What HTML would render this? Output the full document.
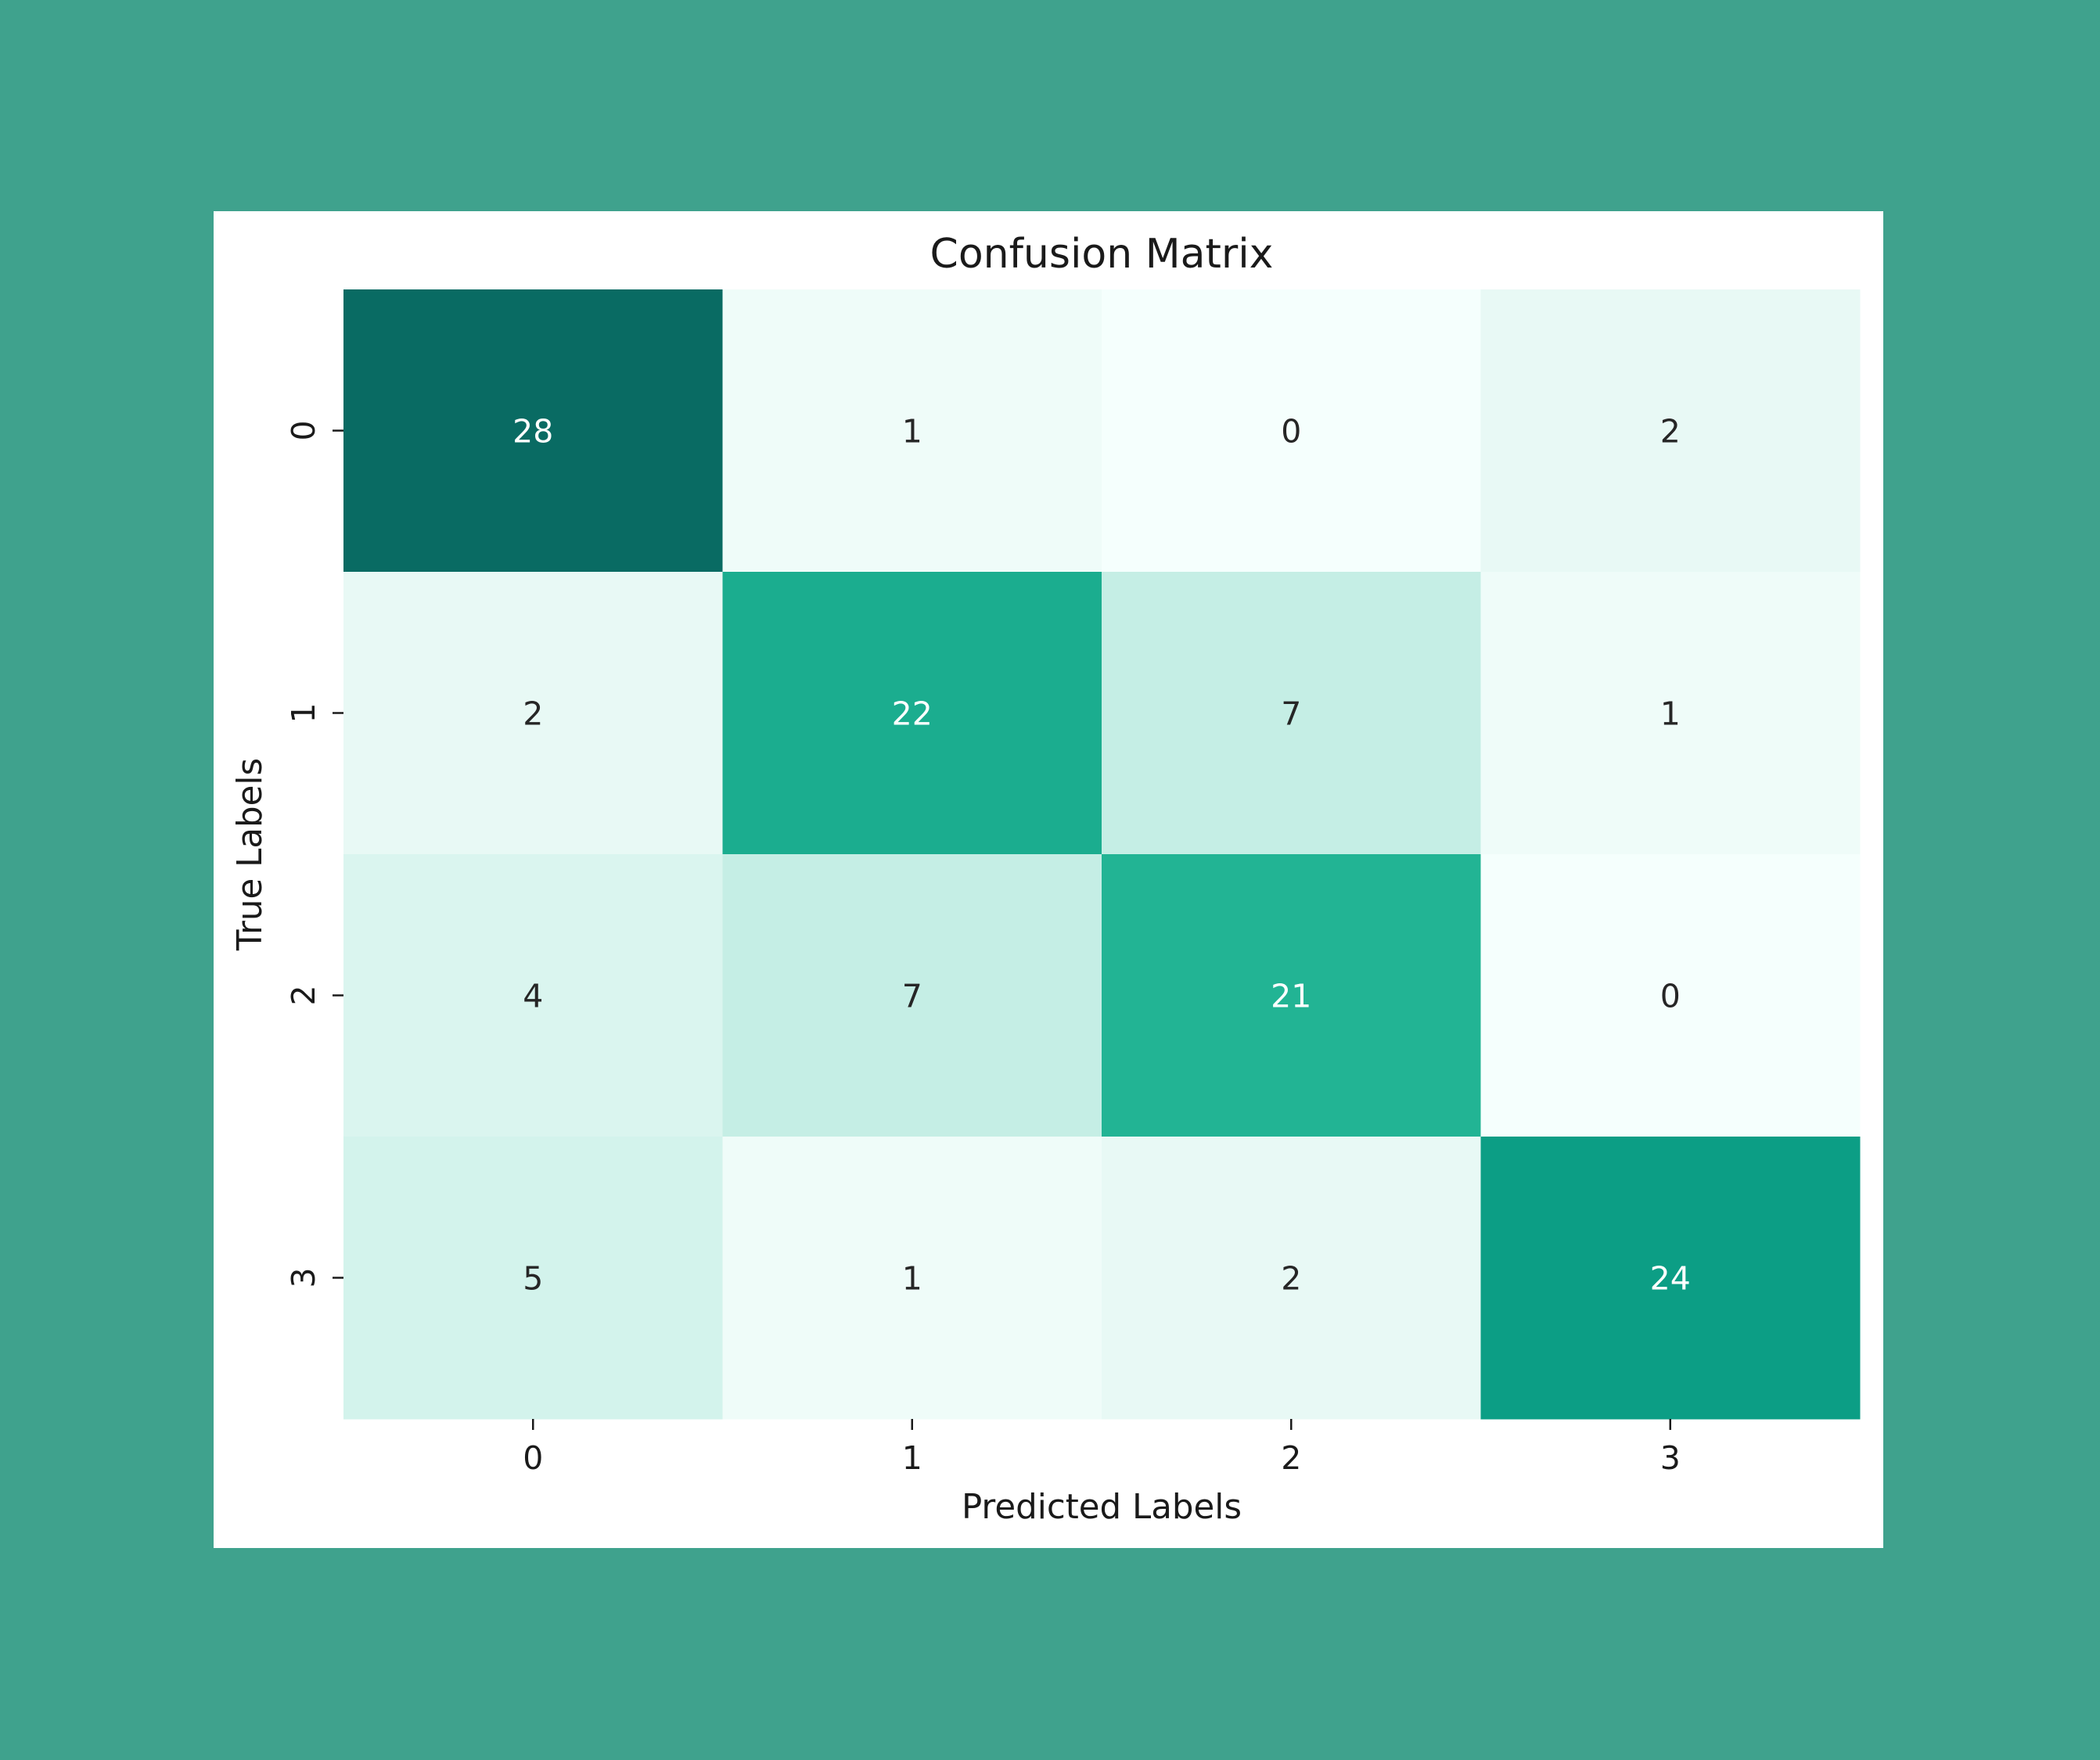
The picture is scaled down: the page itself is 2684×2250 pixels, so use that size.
<!DOCTYPE html>
<html><head><meta charset="utf-8"><style>
html,body{margin:0;padding:0;background:#3fa28d;}
svg{display:block;font-family:"DejaVu Sans","Liberation Sans",sans-serif;}
</style></head><body>
<svg id="chart" width="2684" height="2250" viewBox="0 0 2684 2250">
<rect x="0" y="0" width="2684" height="2250" fill="#3fa28d"/>
<rect x="273" y="270" width="2134" height="1709" fill="#ffffff"/>
<text x="1408" y="342" text-anchor="middle" font-size="52" fill="#1a1a1a">Confusion Matrix</text>
<g id="cells"></g>
<g id="axes"></g>
<text x="1408" y="1941" text-anchor="middle" font-size="43.5" fill="#1a1a1a">Predicted Labels</text>
<text transform="translate(334,1092) rotate(-90)" text-anchor="middle" font-size="43.5" fill="#1a1a1a">True Labels</text>
</svg>
<script>
const xCategories = ["0","1","2","3"];
const yCategories = ["0","1","2","3"];
const row0 = [28, 1, 0, 2];
const row1 = [2, 22, 7, 1];
const row2 = [4, 7, 21, 0];
const row3 = [5, 1, 2, 24];
const matrix = [row0, row1, row2, row3];
const cmapValues = [0, 1, 2, 4, 7, 21, 24, 28];
const cmapColors = ["#f5fffd","#effcf9","#e8f9f5","#daf5ef","#c5eee5","#22b494","#0c9e85","#096b63"];

const L = 439, T = 370, R = 2377, B = 1814;
const cw = (R - L) / xCategories.length, ch = (B - T) / yCategories.length;
const xPos = i => L + i * cw;
const yPos = j => T + j * ch;
const NS = "http://www.w3.org/2000/svg";

function hex(c){return [1,3,5].map(k=>parseInt(c.substr(k,2),16));}
function color(v){
  const n = cmapValues.length;
  if (v <= cmapValues[0]) return cmapColors[0];
  if (v >= cmapValues[n-1]) return cmapColors[n-1];
  for (let k=0;k<n-1;k++){
    if (v>=cmapValues[k] && v<=cmapValues[k+1]){
      const t=(v-cmapValues[k])/(cmapValues[k+1]-cmapValues[k]);
      const a=hex(cmapColors[k]), b=hex(cmapColors[k+1]);
      return "rgb("+a.map((x,i)=>Math.round(x+(b[i]-x)*t)).join(",")+")";
    }
  }
}
const maxV = Math.max(...matrix.flat());
const cells = document.getElementById("cells");
matrix.forEach((row,j)=>row.forEach((v,i)=>{
  const r = document.createElementNS(NS,"rect");
  r.setAttribute("x", xPos(i)); r.setAttribute("y", yPos(j));
  r.setAttribute("width", cw+0.5); r.setAttribute("height", ch+0.5);
  r.setAttribute("fill", color(v));
  
  
  cells.appendChild(r);
  const t = document.createElementNS(NS,"text");
  t.setAttribute("x", xPos(i)+cw/2); t.setAttribute("y", yPos(j)+ch/2+15);
  t.setAttribute("text-anchor","middle"); t.setAttribute("font-size","41");
  t.setAttribute("fill", v > maxV*0.5 ? "#ffffff" : "#262626");
  t.textContent = v;
  
  
  cells.appendChild(t);
}));
const axes = document.getElementById("axes");
xCategories.forEach((c,i)=>{
  const x = xPos(i)+cw/2;
  const l = document.createElementNS(NS,"line");
  l.setAttribute("x1",x);l.setAttribute("x2",x);l.setAttribute("y1",B);l.setAttribute("y2",B+14);
  l.setAttribute("stroke","#1a1a1a");l.setAttribute("stroke-width","2.5");
  
  
  axes.appendChild(l);
  const t = document.createElementNS(NS,"text");
  t.setAttribute("x",x);t.setAttribute("y",1878);t.setAttribute("text-anchor","middle");
  t.setAttribute("font-size","41");t.setAttribute("fill","#1a1a1a");t.textContent=c;
  
  
  axes.appendChild(t);
});
yCategories.forEach((c,j)=>{
  const y = yPos(j)+ch/2;
  const l = document.createElementNS(NS,"line");
  l.setAttribute("x1",L-14);l.setAttribute("x2",L);l.setAttribute("y1",y);l.setAttribute("y2",y);
  l.setAttribute("stroke","#1a1a1a");l.setAttribute("stroke-width","2.5");
  
  
  axes.appendChild(l);
  const t = document.createElementNS(NS,"text");
  t.setAttribute("transform","translate(402,"+y+") rotate(-90)");t.setAttribute("text-anchor","middle");
  t.setAttribute("font-size","41");t.setAttribute("fill","#1a1a1a");t.textContent=c;
  
  
  axes.appendChild(t);
});
</script>
</body></html>
